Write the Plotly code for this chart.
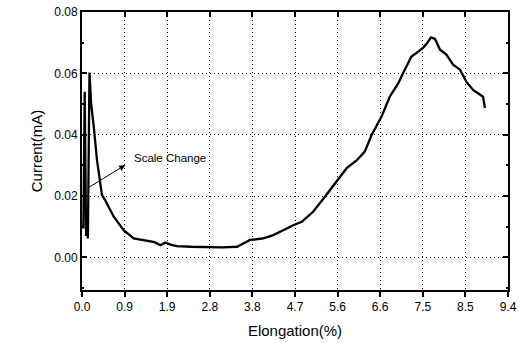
import plotly.graph_objects as go

# Data
elongation = [0.0, 0.03, 0.06, 0.09, 0.11, 0.13, 0.165, 0.20, 0.26, 0.33, 0.44, 0.51,
              0.70, 0.92, 1.14, 1.39, 1.43, 1.60, 1.73, 1.84, 1.95, 2.09, 2.40, 2.75,
              3.10, 3.42, 3.55, 3.71, 4.00, 4.22, 4.44, 4.66, 4.85, 5.10, 5.36, 5.62,
              5.84, 6.06, 6.24, 6.39, 6.61, 6.79, 6.98, 7.10, 7.27, 7.42, 7.53, 7.62,
              7.70, 7.79, 7.90, 8.04, 8.19, 8.34, 8.48, 8.63, 8.81, 8.85, 8.89]
current = [0.0105, 0.0095, 0.0540, 0.0070, 0.0120, 0.0062, 0.0603, 0.0503, 0.0426, 0.0318,
           0.0204, 0.0187, 0.0133, 0.0089, 0.0062, 0.0056, 0.0056, 0.0050, 0.0040, 0.0049,
           0.0042, 0.0037, 0.0035, 0.0033, 0.0033, 0.0035, 0.0045, 0.0057, 0.0062, 0.0073,
           0.0089, 0.0105, 0.0116, 0.0149, 0.0198, 0.0247, 0.0291, 0.0316, 0.0345, 0.0399,
           0.0459, 0.0524, 0.0568, 0.0605, 0.0655, 0.0671, 0.0684, 0.0700, 0.0717, 0.0712,
           0.0677, 0.0661, 0.0628, 0.0612, 0.0573, 0.0546, 0.0530, 0.0524, 0.0487]

x_tickvals = [0.0, 0.94, 1.88, 2.82, 3.76, 4.70, 5.64, 6.58, 7.52, 8.46, 9.40]
x_ticklabels = ["0.0", "0.9", "1.9", "2.8", "3.8", "4.7", "5.6", "6.6", "7.5", "8.5", "9.4"]
y_tickvals = [0.00, 0.02, 0.04, 0.06, 0.08]
y_ticklabels = ["0.00", "0.02", "0.04", "0.06", "0.08"]

FONT = "Liberation Sans, Arial, sans-serif"
DOT = "1px,3px"

fig = go.Figure()
fig.add_trace(go.Scatter(x=elongation, y=current, mode="lines",
                         line=dict(color="black", width=2.3), showlegend=False,
                         hoverinfo="skip"))
# invisible trace to materialise the top axis
fig.add_trace(go.Scatter(x=[elongation[0]], y=[current[0]], xaxis="x2", mode="markers",
                         marker=dict(opacity=0), showlegend=False, hoverinfo="skip"))

fig.add_annotation(x=0.954, y=0.0301, ax=0.11, ay=0.0225, axref="x", ayref="y",
                   xref="x", yref="y", text="", showarrow=True, arrowhead=2,
                   arrowsize=1.2, arrowwidth=1, arrowcolor="black")
fig.add_annotation(x=1.10, y=0.0323, xref="x", yref="y", text="Scale Change",
                   showarrow=False, xanchor="left", yanchor="middle",
                   font=dict(family=FONT, size=11.5, color="black"))

fig.update_layout(
    width=526, height=343,
    margin=dict(l=82, r=18, t=12, b=53, autoexpand=False),
    paper_bgcolor="white", plot_bgcolor="white",
    font=dict(family=FONT, color="black"),
    xaxis=dict(range=[0, 9.4], tickvals=x_tickvals, ticktext=x_ticklabels,
               ticks="outside", ticklen=5, tickwidth=2, tickcolor="black",
               showline=True, linewidth=2, linecolor="black", mirror=True,
               showgrid=True, gridcolor="black", griddash=DOT, gridwidth=1,
               zeroline=False, tickfont=dict(size=12, family=FONT), automargin=False,
               title=dict(text="Elongation(%)", font=dict(size=15, family=FONT), standoff=12)),
    xaxis2=dict(range=[0, 9.4], overlaying="x", side="top", matches="x",
                tickvals=x_tickvals, showticklabels=False, ticks="inside",
                ticklen=5, tickwidth=2, tickcolor="black", showgrid=False,
                zeroline=False, showline=False, automargin=False),
    yaxis=dict(range=[-0.0106, 0.08], tickvals=y_tickvals, ticktext=y_ticklabels,
               ticks="inside", ticklen=5, tickwidth=2, tickcolor="black",
               showline=True, linewidth=2, linecolor="black", mirror="ticks",
               showgrid=True, gridcolor="black", griddash=DOT, gridwidth=1,
               zeroline=False, tickfont=dict(size=12, family=FONT), automargin=False,
               minor=dict(dtick=0.01, ticks="inside", ticklen=2, tickcolor="black",
                          showgrid=False),
               title=dict(text="Current(mA)", font=dict(size=15, family=FONT), standoff=8)),
)

fig.write_html("out.html")
